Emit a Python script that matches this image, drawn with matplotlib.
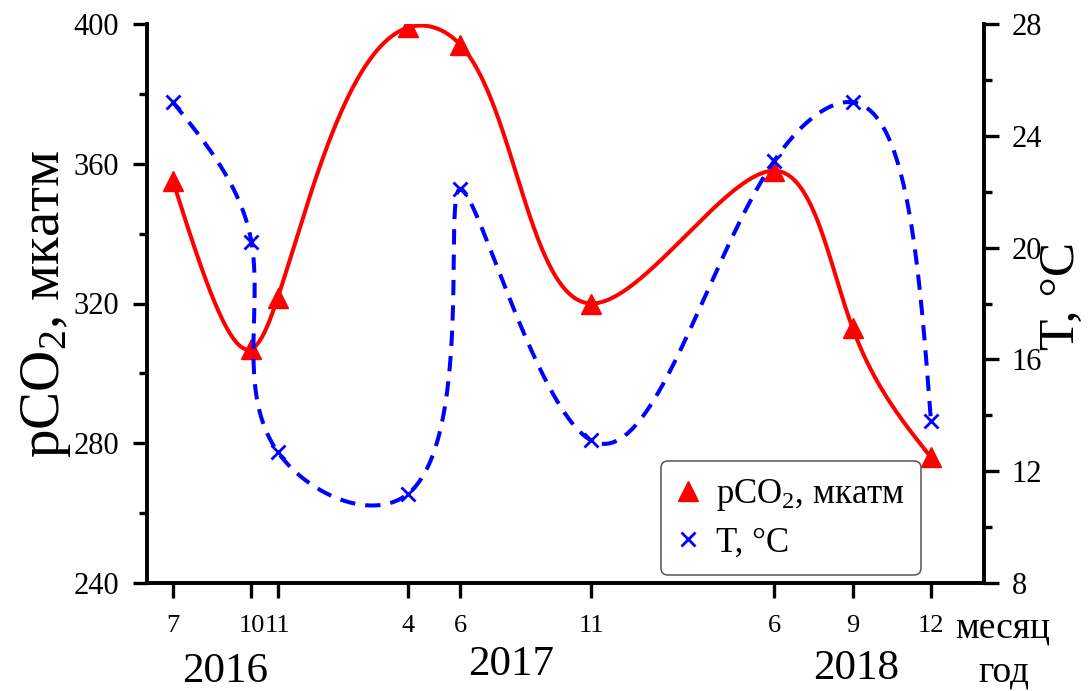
import numpy as np
import matplotlib
matplotlib.use("Agg")
import matplotlib.pyplot as plt

# sampling dates (year, month) and measured values
years = [2016, 2016, 2016, 2017, 2017, 2017, 2018, 2018, 2018]
months = [7, 10, 11, 4, 6, 11, 6, 9, 12]
pco2 = [355, 307, 321.5, 399, 394, 320, 358, 313, 276]
temp = [25.2, 20.2, 12.7, 11.2, 22.1, 13.1, 23.1, 25.2, 13.8]
year_labels = ["2016", "2017", "2018"]

plt.rcParams["font.family"] = ["Liberation Serif", "DejaVu Serif"]
plt.rcParams["mathtext.fontset"] = "custom"
plt.rcParams["mathtext.rm"] = "Liberation Serif"
plt.rcParams["mathtext.it"] = "Liberation Serif:italic"


def natural_spline(t, y, tt):
    n = len(t)
    h = np.diff(t)
    A = np.zeros((n, n))
    r = np.zeros(n)
    A[0, 0] = A[-1, -1] = 1.0
    for i in range(1, n - 1):
        A[i, i - 1] = h[i - 1]
        A[i, i] = 2 * (h[i - 1] + h[i])
        A[i, i + 1] = h[i]
        r[i] = 6 * ((y[i + 1] - y[i]) / h[i] - (y[i] - y[i - 1]) / h[i - 1])
    M = np.linalg.solve(A, r)
    i = np.clip(np.searchsorted(t, tt) - 1, 0, n - 2)
    hi = t[i + 1] - t[i]
    a = (t[i + 1] - tt) / hi
    b = (tt - t[i]) / hi
    return a * y[i] + b * y[i + 1] + ((a**3 - a) * M[i] + (b**3 - b) * M[i + 1]) * hi**2 / 6


def smooth(ax, x, y, alpha=0.75, n=600):
    """Parametric spline through the points, built in screen space."""
    pts = ax.transData.transform(np.column_stack([x, y]))
    d = np.hypot(*np.diff(pts, axis=0).T) ** alpha
    t = np.concatenate([[0], np.cumsum(d)])
    tt = np.linspace(0, t[-1], n)
    sx = natural_spline(t, pts[:, 0], tt)
    sy = natural_spline(t, pts[:, 1], tt)
    out = ax.transData.inverted().transform(np.column_stack([sx, sy]))
    return out[:, 0], out[:, 1]


x = np.array([(yr - years[0]) * 12 + m - months[0] for yr, m in zip(years, months)], float)

W, H = 1091, 691
fig = plt.figure(figsize=(W / 100, H / 100), dpi=100)
ax = fig.add_axes([147 / W, 1 - 583 / H, (984 - 147) / W, (583 - 24) / H])
ax2 = ax.twinx()

ax.set_xlim(-0.995, 31.03)
ax.set_ylim(240, 400)
ax2.set_ylim(8, 28)

for a in (ax, ax2):
    a.spines["top"].set_visible(False)
    for s in a.spines.values():
        s.set_linewidth(2.8)
ax.spines["right"].set_visible(False)
ax2.spines["left"].set_visible(False)
ax2.spines["bottom"].set_visible(False)

sx, sy = smooth(ax, x, pco2)
ax.plot(sx, sy, color="red", lw=2.9, zorder=2)
ax.plot(x, pco2, ls="none", marker="^", ms=15, color="red", zorder=3)

tx, ty = smooth(ax2, x, temp)
ax2.plot(tx, ty, color="blue", lw=2.9, dashes=(3.8, 2.5), zorder=2)
ax2.plot(x, temp, ls="none", marker="x", ms=10, mew=2.0, color="blue", zorder=3)

ax.set_yticks(np.arange(240, 401, 40))
ax.set_yticks(np.arange(260, 400, 40), minor=True)
ax2.set_yticks(np.arange(8, 29, 4))
ax2.set_yticks(np.arange(10, 28, 4), minor=True)
ax.set_xticks(x)
ax.set_xticklabels([str(m) for m in months])

ax.tick_params(axis="y", which="major", length=10, width=2.4, labelsize=22, pad=10)
ax.tick_params(axis="y", which="minor", length=5.5, width=2.4)
ax2.tick_params(axis="y", which="major", length=11, width=2.4, labelsize=22, pad=9)
ax2.tick_params(axis="y", which="minor", length=6, width=2.4)
ax.tick_params(axis="x", which="major", length=11, width=2.4, labelsize=19, pad=12)

fig.text(46 / W, 1 - 304 / H, "pCO$_2$, мкатм", rotation=90, ha="center", va="center", fontsize=41)
fig.text(1062 / W, 1 - 296 / H, "T, °C", rotation=90, ha="center", va="center", fontsize=37)

fig.text(1003 / W, 1 - 628 / H, "месяц", ha="center", va="center", fontsize=27)
fig.text(1004 / W, 1 - 672 / H, "год", ha="center", va="center", fontsize=27)
for lbl, (px, py) in zip(year_labels, [(225, 672), (511, 665), (856, 669)]):
    fig.text(px / W, 1 - py / H, lbl, ha="center", va="center", fontsize=31)

h1 = plt.Line2D([], [], ls="none", marker="^", ms=15, color="red")
h2 = plt.Line2D([], [], ls="none", marker="x", ms=10, mew=2.0, color="blue")
leg = ax2.legend([h1, h2], ["pCO$_2$, мкатм", "T, °C"], loc="lower right",
                 bbox_to_anchor=(0.9245, 0.014), fontsize=25, frameon=True,
                 fancybox=True, handlelength=0.7, handletextpad=0.45,
                 borderpad=0.45, labelspacing=0.4, borderaxespad=0)
leg.get_frame().set_edgecolor("#555555")
leg.get_frame().set_linewidth(1.1)
leg.get_frame().set_alpha(1)

fig.savefig("out.png", dpi=100)
